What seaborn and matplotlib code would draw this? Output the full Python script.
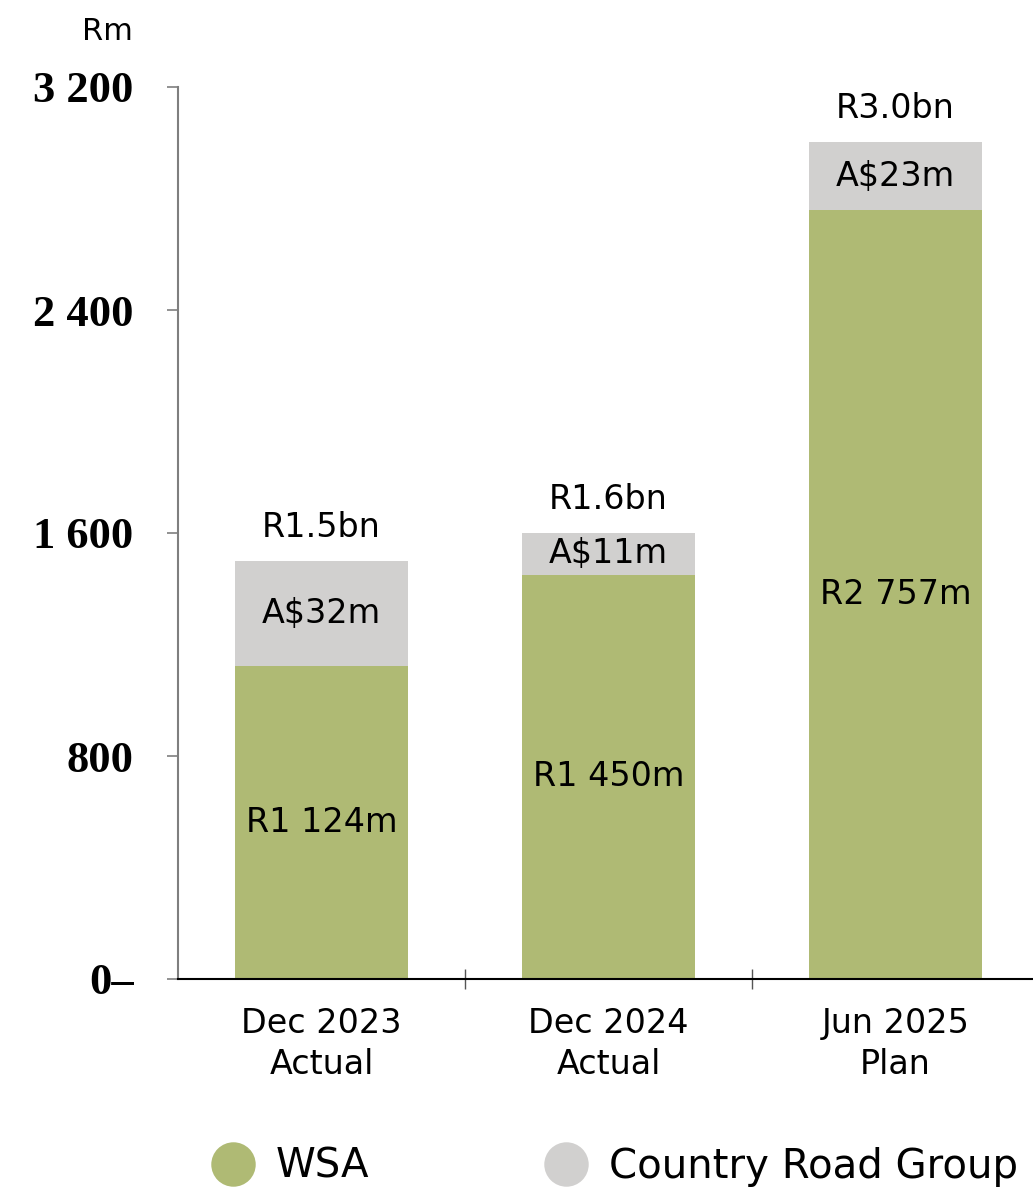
import matplotlib
matplotlib.use("Agg")
import matplotlib.pyplot as plt
from matplotlib.lines import Line2D
import seaborn as sns
import pandas as pd

# Categories and values (Rm)
categories = ["Dec 2023\nActual", "Dec 2024\nActual", "Jun 2025\nPlan"]
wsa_values = [1124, 1450, 2757]
crg_values = [376, 150, 246]
wsa_labels = ["R1 124m", "R1 450m", "R2 757m"]
crg_labels = ["A$32m", "A$11m", "A$23m"]
total_labels = ["R1.5bn", "R1.6bn", "R3.0bn"]
y_ticks = [0, 800, 1600, 2400, 3200]
y_tick_labels = ["0\u2013", "800", "1 600", "2 400", "3 200"]

GREEN = "#AFBA74"
GREY = "#D1D0CF"
SANS = ["DejaVu Sans"]
SERIF = ["Liberation Serif", "DejaVu Serif"]

sns.set_theme(style="white")
plt.rcParams["font.family"] = SANS
plt.rcParams["text.color"] = "black"
plt.rcParams["xtick.labelcolor"] = "black"
plt.rcParams["ytick.labelcolor"] = "black"

df = pd.DataFrame({
    "category": categories,
    "WSA": wsa_values,
    "CRG": crg_values,
})
df["total"] = df["WSA"] + df["CRG"]

fig = plt.figure(figsize=(10.33, 11.89), dpi=100)
ax = fig.add_axes([178 / 1033, 210 / 1189, 861 / 1033, 892 / 1189])

# Stacked bars: full total in grey, WSA share drawn over it in green
sns.barplot(data=df, x="category", y="total", color=GREY, width=0.6,
            saturation=1, ax=ax, linewidth=0)
sns.barplot(data=df, x="category", y="WSA", color=GREEN, width=0.6,
            saturation=1, ax=ax, linewidth=0)

ax.set_xlim(-0.5, 2.5)
ax.set_ylim(0, 3200)
ax.set_xlabel("")
ax.set_ylabel("")

# Segment and total labels
for i, row in df.iterrows():
    ax.text(i, row["WSA"] / 2, wsa_labels[i], ha="center", va="center",
            fontsize=24, color="black")
    ax.text(i, row["WSA"] + row["CRG"] / 2, crg_labels[i], ha="center",
            va="center", fontsize=24, color="black")
    ax.annotate(total_labels[i], (i, row["total"]), xytext=(0, 24),
                textcoords="offset points", ha="center", va="center",
                fontsize=24, color="black")

# Spines
for s in ["top", "right"]:
    ax.spines[s].set_visible(False)
ax.spines["left"].set_color("#7F7F7F")
ax.spines["left"].set_linewidth(1.5)
ax.spines["bottom"].set_color("black")
ax.spines["bottom"].set_linewidth(1.5)

# Y axis ticks
ax.set_yticks(y_ticks)
ax.set_yticklabels(y_tick_labels, fontfamily=SERIF, fontweight="bold",
                   fontsize=32, color="black")
ax.tick_params(axis="y", direction="out", length=8, width=1.2,
               color="#7F7F7F", pad=24, left=True)
ax.yaxis.get_major_ticks()[0].tick1line.set_color("black")

# X axis: category labels, separators between groups
ax.set_xticks(range(len(categories)))
ax.set_xticklabels(categories, fontsize=24, linespacing=1.3, color="black")
ax.tick_params(axis="x", which="major", length=0, pad=20)
ax.set_xticks([0.5, 1.5], minor=True)
ax.tick_params(axis="x", which="minor", direction="inout", length=14,
               width=1.0, color="#555555", bottom=True)

# Unit label
fig.text(133 / 1033, 1 - 32 / 1189, "Rm", ha="right", va="center",
         fontsize=22, color="black")

# Legend
handles = [
    Line2D([], [], marker="o", linestyle="none", markersize=32,
           markerfacecolor=GREEN, markeredgecolor="none", label="WSA"),
    Line2D([], [], marker="o", linestyle="none", markersize=32,
           markerfacecolor=GREY, markeredgecolor="none",
           label="Country Road Group"),
]
leg = fig.legend(handles=handles, loc="center left", ncol=2,
                 bbox_to_anchor=(209 / 1033, 1 - 1167 / 1189), frameon=False,
                 fontsize=29, handlelength=1.2, handletextpad=0.45,
                 columnspacing=4.3, borderpad=0, borderaxespad=0)
for t in leg.get_texts():
    t.set_color("black")

fig.savefig("out.png", dpi=100)
